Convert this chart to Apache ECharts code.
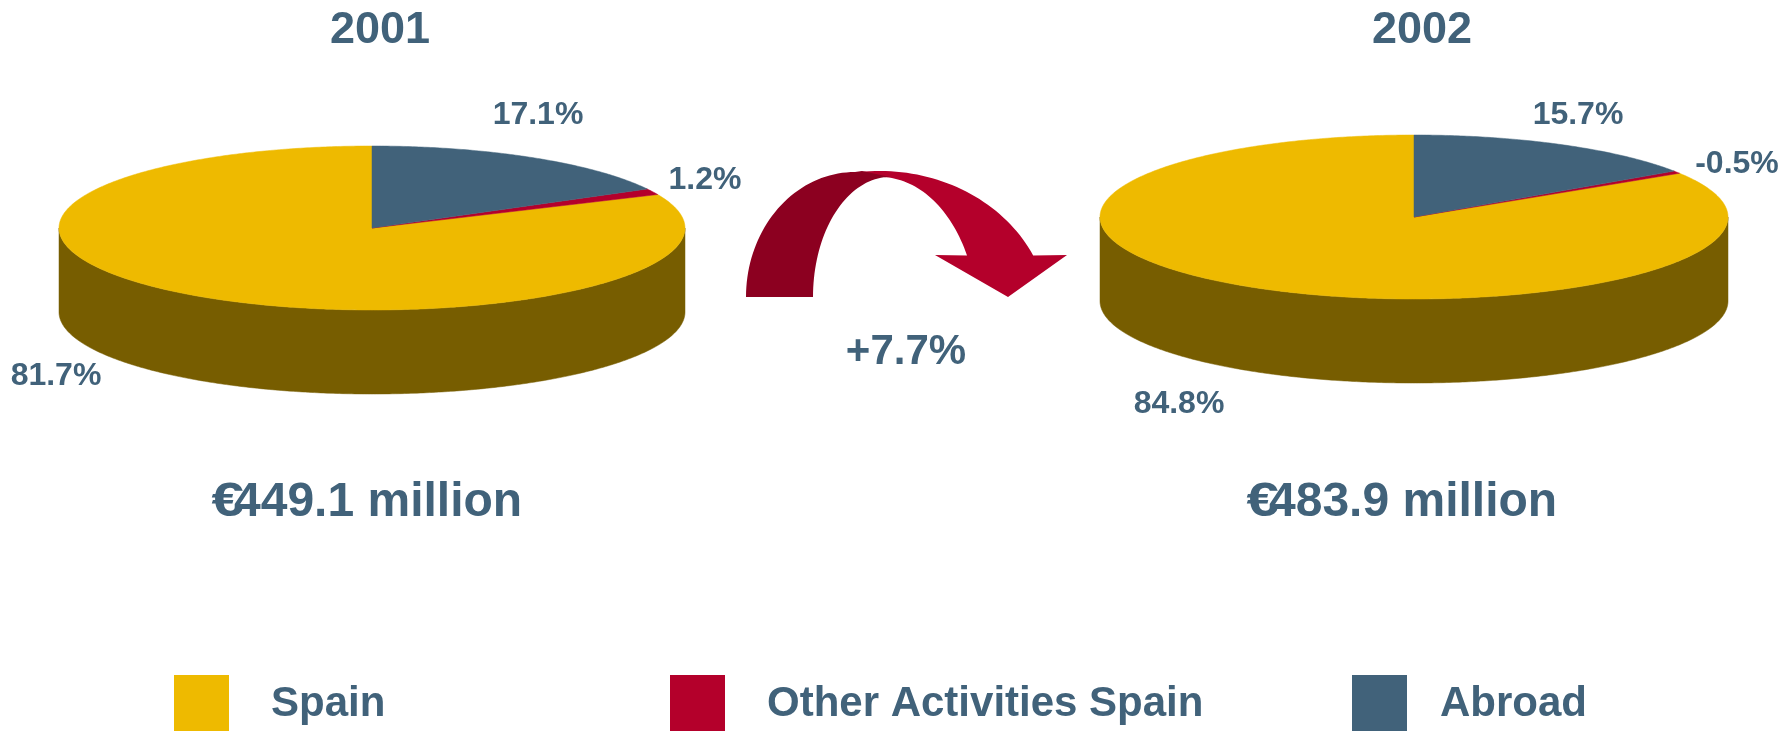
<!DOCTYPE html>
<html>
<head>
<meta charset="utf-8">
<title>Revenue breakdown 2001 - 2002</title>
<script src="https://cdn.jsdelivr.net/npm/echarts@6/dist/echarts.min.js"></script>
<style>
  html, body { margin: 0; padding: 0; background: #fff; }
  #chart { width: 1791px; height: 731px; }
</style>
</head>
<body>
<div id="chart"></div>
<script>
// data
const years = ['2001', '2002']
const categories = ['Spain', 'Other Activities Spain', 'Abroad']
const spainShare = [81.7, 84.8]
const otherShare = [1.2, -0.5]
const abroadShare = [17.1, 15.7]
const totalRevenue = [449.1, 483.9] // € million
const growthPct = 7.7

const FONT = '"Liberation Sans", Arial, sans-serif'
const TEXT = '#41627A'

const shares = {
  'Spain': spainShare,
  'Other Activities Spain': otherShare,
  'Abroad': abroadShare
}
const topColor = { 'Spain': '#EEBA00', 'Other Activities Spain': '#B4002B', 'Abroad': '#41627A' }
const sideColor = { 'Spain': '#775D00', 'Other Activities Spain': '#6A0019', 'Abroad': '#273B49' }

// slices go clockwise from 12 o'clock in this order
const drawOrder = ['Abroad', 'Other Activities Spain', 'Spain']

// pie geometry (flattened ellipse + wall depth)
const pies = [
  { cx: 372, cy: 228, rx: 313, ry: 82, depth: 84 },
  { cx: 1414, cy: 217, rx: 314, ry: 82, depth: 84 }
]
// where each percentage label sits
const labelPos = [
  { 'Spain': [56, 376], 'Other Activities Spain': [705, 180], 'Abroad': [538, 115] },
  { 'Spain': [1179, 404], 'Other Activities Spain': [1737, 164], 'Abroad': [1578, 115] }
]
// totals: left edge of the number, the € is tucked over it
const totalX = [234, 1269]
const legendLeft = [174, 670, 1352]
const legendTextPad = [37, 37, 28]

// start / end angle of a slice (radians, clockwise from top)
const sliceRange = (cat, i) => {
  const total = drawOrder.reduce((s, c) => s + Math.abs(shares[c][i]), 0)
  let start = 0
  for (const c of drawOrder) {
    const size = Math.abs(shares[c][i]) / total * Math.PI * 2
    if (c === cat) return [start, start + size]
    start += size
  }
}

const renderSlice = (params, api) => {
  const i = api.value(0)
  const cat = params.seriesName
  const p = pies[i]
  const [a0, a1] = sliceRange(cat, i)
  const pt = a => [p.cx + p.rx * Math.sin(a), p.cy - p.ry * Math.cos(a)]
  const arc = (s, e) => {
    const n = Math.max(2, Math.ceil((e - s) / 0.01))
    const pts = []
    for (let k = 0; k <= n; k++) pts.push(pt(s + (e - s) * k / n))
    return pts
  }
  const children = []

  // wall, only the front half is visible
  const s = Math.max(a0, Math.PI / 2)
  const e = Math.min(a1, Math.PI * 1.5)
  if (e > s) {
    const rim = arc(s, e)
    const bottom = rim.map(q => [q[0], q[1] + p.depth]).reverse()
    children.push({
      type: 'polygon',
      shape: { points: rim.concat(bottom) },
      style: { fill: sideColor[cat], stroke: sideColor[cat], lineWidth: 0.5 }
    })
  }

  // top face
  children.push({
    type: 'polygon',
    shape: { points: [[p.cx, p.cy]].concat(arc(a0, a1)) },
    style: { fill: topColor[cat], stroke: topColor[cat], lineWidth: 0.5 }
  })

  const v = api.value(1)
  children.push({
    type: 'text',
    x: labelPos[i][cat][0],
    y: labelPos[i][cat][1],
    style: {
      text: v.toFixed(1) + '%',
      fill: TEXT,
      font: 'bold 32px ' + FONT,
      align: 'center',
      verticalAlign: 'middle'
    }
  })
  return { type: 'group', children }
}

// curved arrow between the two pies
const ellArc = (cx, cy, rx, ry, d0, d1, n = 40) => {
  const pts = []
  for (let k = 0; k <= n; k++) {
    const a = (d0 + (d1 - d0) * k / n) * Math.PI / 180
    pts.push([cx + rx * Math.cos(a), cy - ry * Math.sin(a)])
  }
  return pts
}
const arrowDark = ellArc(855, 297, 109, 125, 180, 90)
  .concat([[862, 171]])
  .concat(ellArc(890, 297, 77, 120, 90, 180))
const arrowLight = ellArc(880, 320, 170, 149, 97, 25.7)
  .concat([[1067, 255], [1008, 297], [935, 255]])
  .concat(ellArc(880, 320, 97.5, 143, 26.8, 97))

const txt = (text, x, y, size, align = 'center') => ({
  type: 'text',
  x, y,
  style: {
    text,
    fill: TEXT,
    font: 'bold ' + size + 'px ' + FONT,
    align,
    verticalAlign: 'middle'
  }
})

// "€449.1 million" - the (wide) euro sign overlaps the first digit on the slide
const totalLabel = i => [
  txt(totalRevenue[i].toFixed(1) + ' million', totalX[i], 503, 48, 'left'),
  Object.assign(txt('€', totalX[i] + 10, 503, 48, 'right'), { scaleX: 1.22 })
]

const chart = echarts.init(document.getElementById('chart'))

chart.setOption({
  animation: false,
  backgroundColor: '#fff',
  legend: categories.map((c, k) => ({
    data: [{ name: c, icon: 'rect' }],
    left: legendLeft[k],
    top: 675,
    padding: 0,
    itemWidth: 55,
    itemHeight: 58,
    selectedMode: false,
    textStyle: {
      fontSize: 42,
      fontWeight: 'bold',
      fontFamily: FONT,
      color: TEXT,
      padding: [0, 0, 0, legendTextPad[k]]
    }
  })),
  graphic: [
    txt(years[0], 380, 31, 45),
    txt(years[1], 1422, 31, 45),
    ...totalLabel(0),
    ...totalLabel(1),
    txt('+' + growthPct.toFixed(1) + '%', 906, 352, 42),
    { type: 'polygon', shape: { points: arrowLight }, style: { fill: '#B4002B' } },
    { type: 'polygon', shape: { points: arrowDark }, style: { fill: '#8C0020' } }
  ],
  series: categories.map(c => ({
    type: 'custom',
    name: c,
    coordinateSystem: 'none',
    itemStyle: { color: topColor[c] },
    renderItem: renderSlice,
    data: years.map((y, i) => [i, shares[c][i]])
  }))
})
</script>
</body>
</html>
